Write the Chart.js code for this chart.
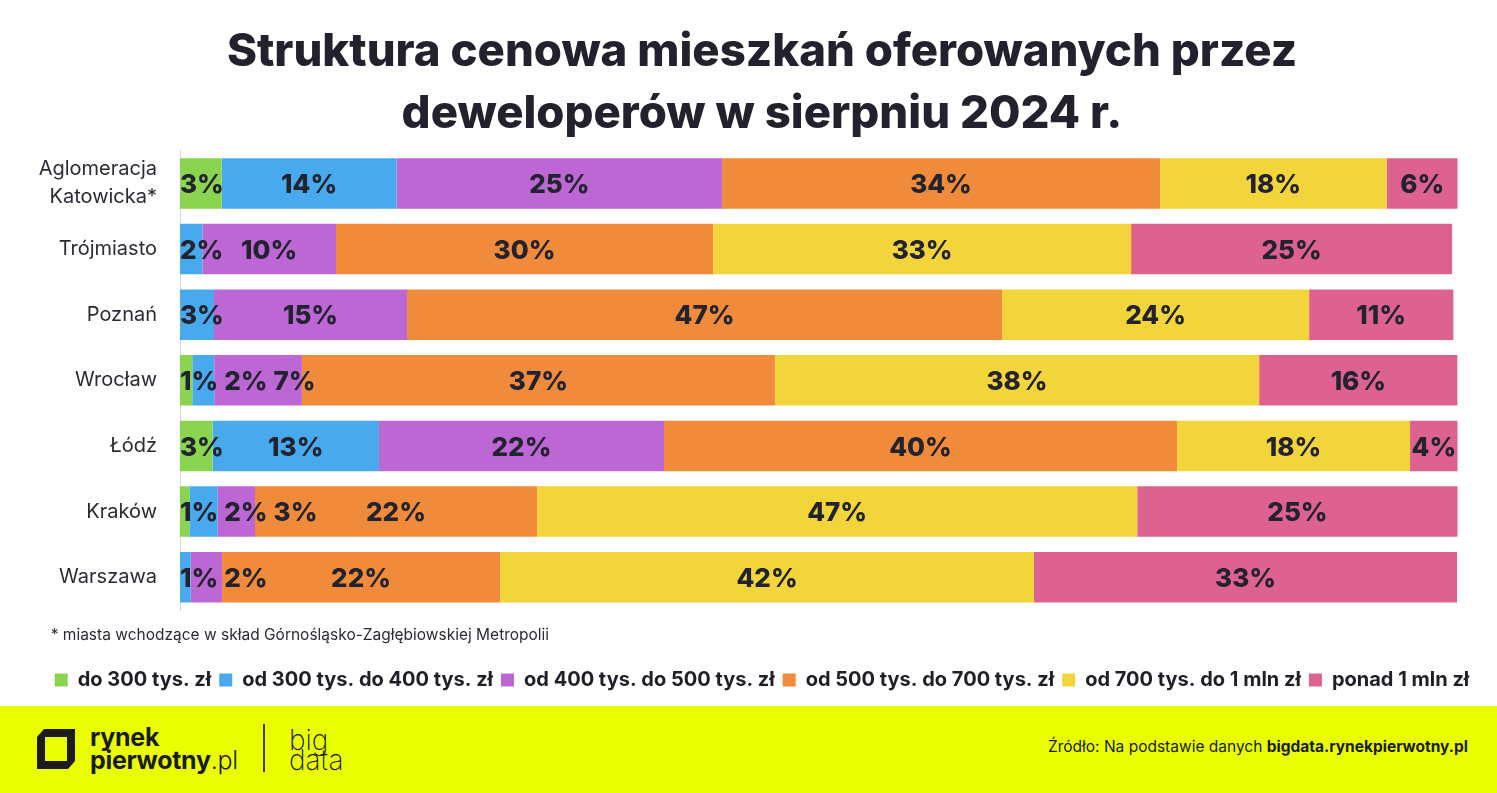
<!DOCTYPE html>
<html lang="pl">
<head>
<meta charset="utf-8">
<script src="https://cdn.jsdelivr.net/npm/chart.js@4.4.1/dist/chart.umd.min.js"></script>
<style>
html,body{margin:0;padding:0;background:#fff;width:1497px;height:793px;overflow:hidden;}
#wrap{position:relative;width:1497px;height:706px;}
#band{position:relative;width:1497px;height:87px;background:#e9ff00;font-family:Inter,"Open Sans",sans-serif;color:#1b1b1b;}
#logoIcon{position:absolute;left:37px;top:23px;}
#brand{position:absolute;left:90px;top:20px;font-size:25px;line-height:23px;font-weight:700;letter-spacing:-0.3px;white-space:nowrap;}
#brand .lt{font-weight:300;}
#divider{position:absolute;left:263px;top:18px;width:1.5px;height:48px;background:#3d3d1c;}
#bigdata{position:absolute;left:289px;top:24px;font-size:28px;line-height:20px;font-weight:200;white-space:nowrap;}
#source{position:absolute;right:29px;top:32px;font-size:15.5px;line-height:18px;white-space:nowrap;}
#source b{font-weight:700;}
</style>
</head>
<body>
<div id="wrap"><canvas id="c" width="1497" height="706"></canvas></div>
<div id="band">
  <svg id="logoIcon" width="40" height="41" viewBox="0 0 40 41">
    <path fill="#1b1b1b" fill-rule="evenodd" d="M7 0 L38 0 L38 32 L31 40 L0 40 L0 8 Z M8 8 L8 32 L30 32 L30 8 Z"/>
  </svg>
  <div id="brand">rynek<br>pierwotny<span class="lt">.pl</span></div>
  <div id="divider"></div>
  <div id="bigdata">big<br>data</div>
  <div id="source">Źródło: Na podstawie danych <b>bigdata.rynekpierwotny.pl</b></div>
</div>
<script>
// ---- data ----
const categories = [['Aglomeracja', 'Katowicka*'], 'Trójmiasto', 'Poznań', 'Wrocław', 'Łódź', 'Kraków', 'Warszawa'];
const seriesNames = ['do 300 tys. zł', 'od 300 tys. do 400 tys. zł', 'od 400 tys. do 500 tys. zł', 'od 500 tys. do 700 tys. zł', 'od 700 tys. do 1 mln zł', 'ponad 1 mln zł'];
const do300 = [3.26, 0, 0, 0.96, 2.55, 0.73, 0];
const od300do400 = [13.70, 1.75, 2.66, 1.72, 13.02, 2.22, 0.84];
const od400do500 = [25.46, 10.46, 15.11, 6.86, 22.31, 2.92, 2.45];
const od500do700 = [34.28, 29.51, 46.57, 37.02, 40.15, 22.07, 21.76];
const od700do1mln = [17.74, 32.72, 24.03, 37.90, 18.24, 46.98, 41.79];
const ponad1mln = [5.56, 25.12, 11.29, 15.53, 3.73, 25.08, 33.11];
const seriesColors = ['#8ad44f', '#48a9ec', '#bc67d3', '#f08b3b', '#f2d53b', '#dd628f'];
const titleLines = ['Struktura cenowa mieszkań oferowanych przez', 'deweloperów w sierpniu 2024 r.'];
const footnote = '* miasta wchodzące w skład Górnośląsko-Zagłębiowskiej Metropolii';

const seriesValues = [do300, od300do400, od400do500, od500do700, od700do1mln, ponad1mln];
const FONT = 'Inter, "Open Sans", sans-serif';
const TEXT = '#22212e';

const segLabels = {
  id: 'segLabels',
  afterDatasetsDraw(chart) {
    const ctx = chart.ctx;
    const area = chart.chartArea;
    const gap = 6;
    ctx.save();
    ctx.font = '800 26px ' + FONT;
    ctx.fillStyle = '#23232f';
    ctx.textAlign = 'center';
    ctx.textBaseline = 'middle';
    for (let i = 0; i < chart.data.labels.length; i++) {
      let prevRight = area.left - gap;
      chart.data.datasets.forEach((ds, d) => {
        const v = ds.data[i];
        if (!v || v < 0.5) return;
        const el = chart.getDatasetMeta(d).data[i];
        const txt = Math.round(v) + '%';
        const w = ctx.measureText(txt).width;
        let left = (el.x + el.base) / 2 - w / 2;
        if (left < prevRight + gap) left = prevRight + gap;
        if (left + w > area.right) left = area.right - w;
        ctx.fillText(txt, left + w / 2, el.y + 2);
        prevRight = left + w;
      });
    }
    ctx.restore();
  }
};

new Chart(document.getElementById('c'), {
  type: 'bar',
  data: {
    labels: categories,
    datasets: seriesValues.map((vals, k) => ({
      label: seriesNames[k],
      data: vals,
      backgroundColor: seriesColors[k],
      borderWidth: 0,
      barPercentage: 0.77,
      categoryPercentage: 1
    }))
  },
  options: {
    indexAxis: 'y',
    responsive: false,
    animation: false,
    devicePixelRatio: 1,
    layout: { padding: { left: 27, right: 0, top: 0, bottom: 6 } },
    scales: {
      x: { stacked: true, min: 0, max: 100, display: false },
      y: {
        stacked: true,
        afterFit: (s) => { s.width = 153; },
        grid: { display: false, drawTicks: false },
        border: { display: true, color: '#d4d4d4', width: 1 },
        ticks: { padding: 23, color: '#2b2b36', font: { family: FONT, size: 20, weight: 400, lineHeight: 1.4 } }
      },
      yRight: {
        type: 'linear',
        position: 'right',
        min: 0, max: 1,
        afterFit: (s) => { s.width = 39.3; },
        grid: { display: false, drawTicks: false },
        border: { display: false },
        ticks: { display: false }
      }
    },
    plugins: {
      title: {
        display: true,
        text: titleLines,
        color: TEXT,
        font: { family: FONT, size: 45.5, weight: 800, lineHeight: 1.3626 },
        padding: { top: 21, bottom: 5.6 }
      },
      legend: {
        display: true,
        position: 'bottom',
        title: {
          display: true,
          text: footnote,
          position: 'start',
          color: '#2b2b36',
          font: { family: FONT, size: 15.5, weight: 400, lineHeight: 1.2 },
          padding: { top: 17.25, bottom: 16.15 }
        },
        labels: {
          boxWidth: 13,
          boxHeight: 13,
          padding: 8,
          color: '#1f1f2a',
          font: { family: FONT, size: 20, weight: 700 }
        }
      },
      tooltip: { enabled: false }
    }
  },
  plugins: [segLabels]
});
</script>
</body>
</html>
